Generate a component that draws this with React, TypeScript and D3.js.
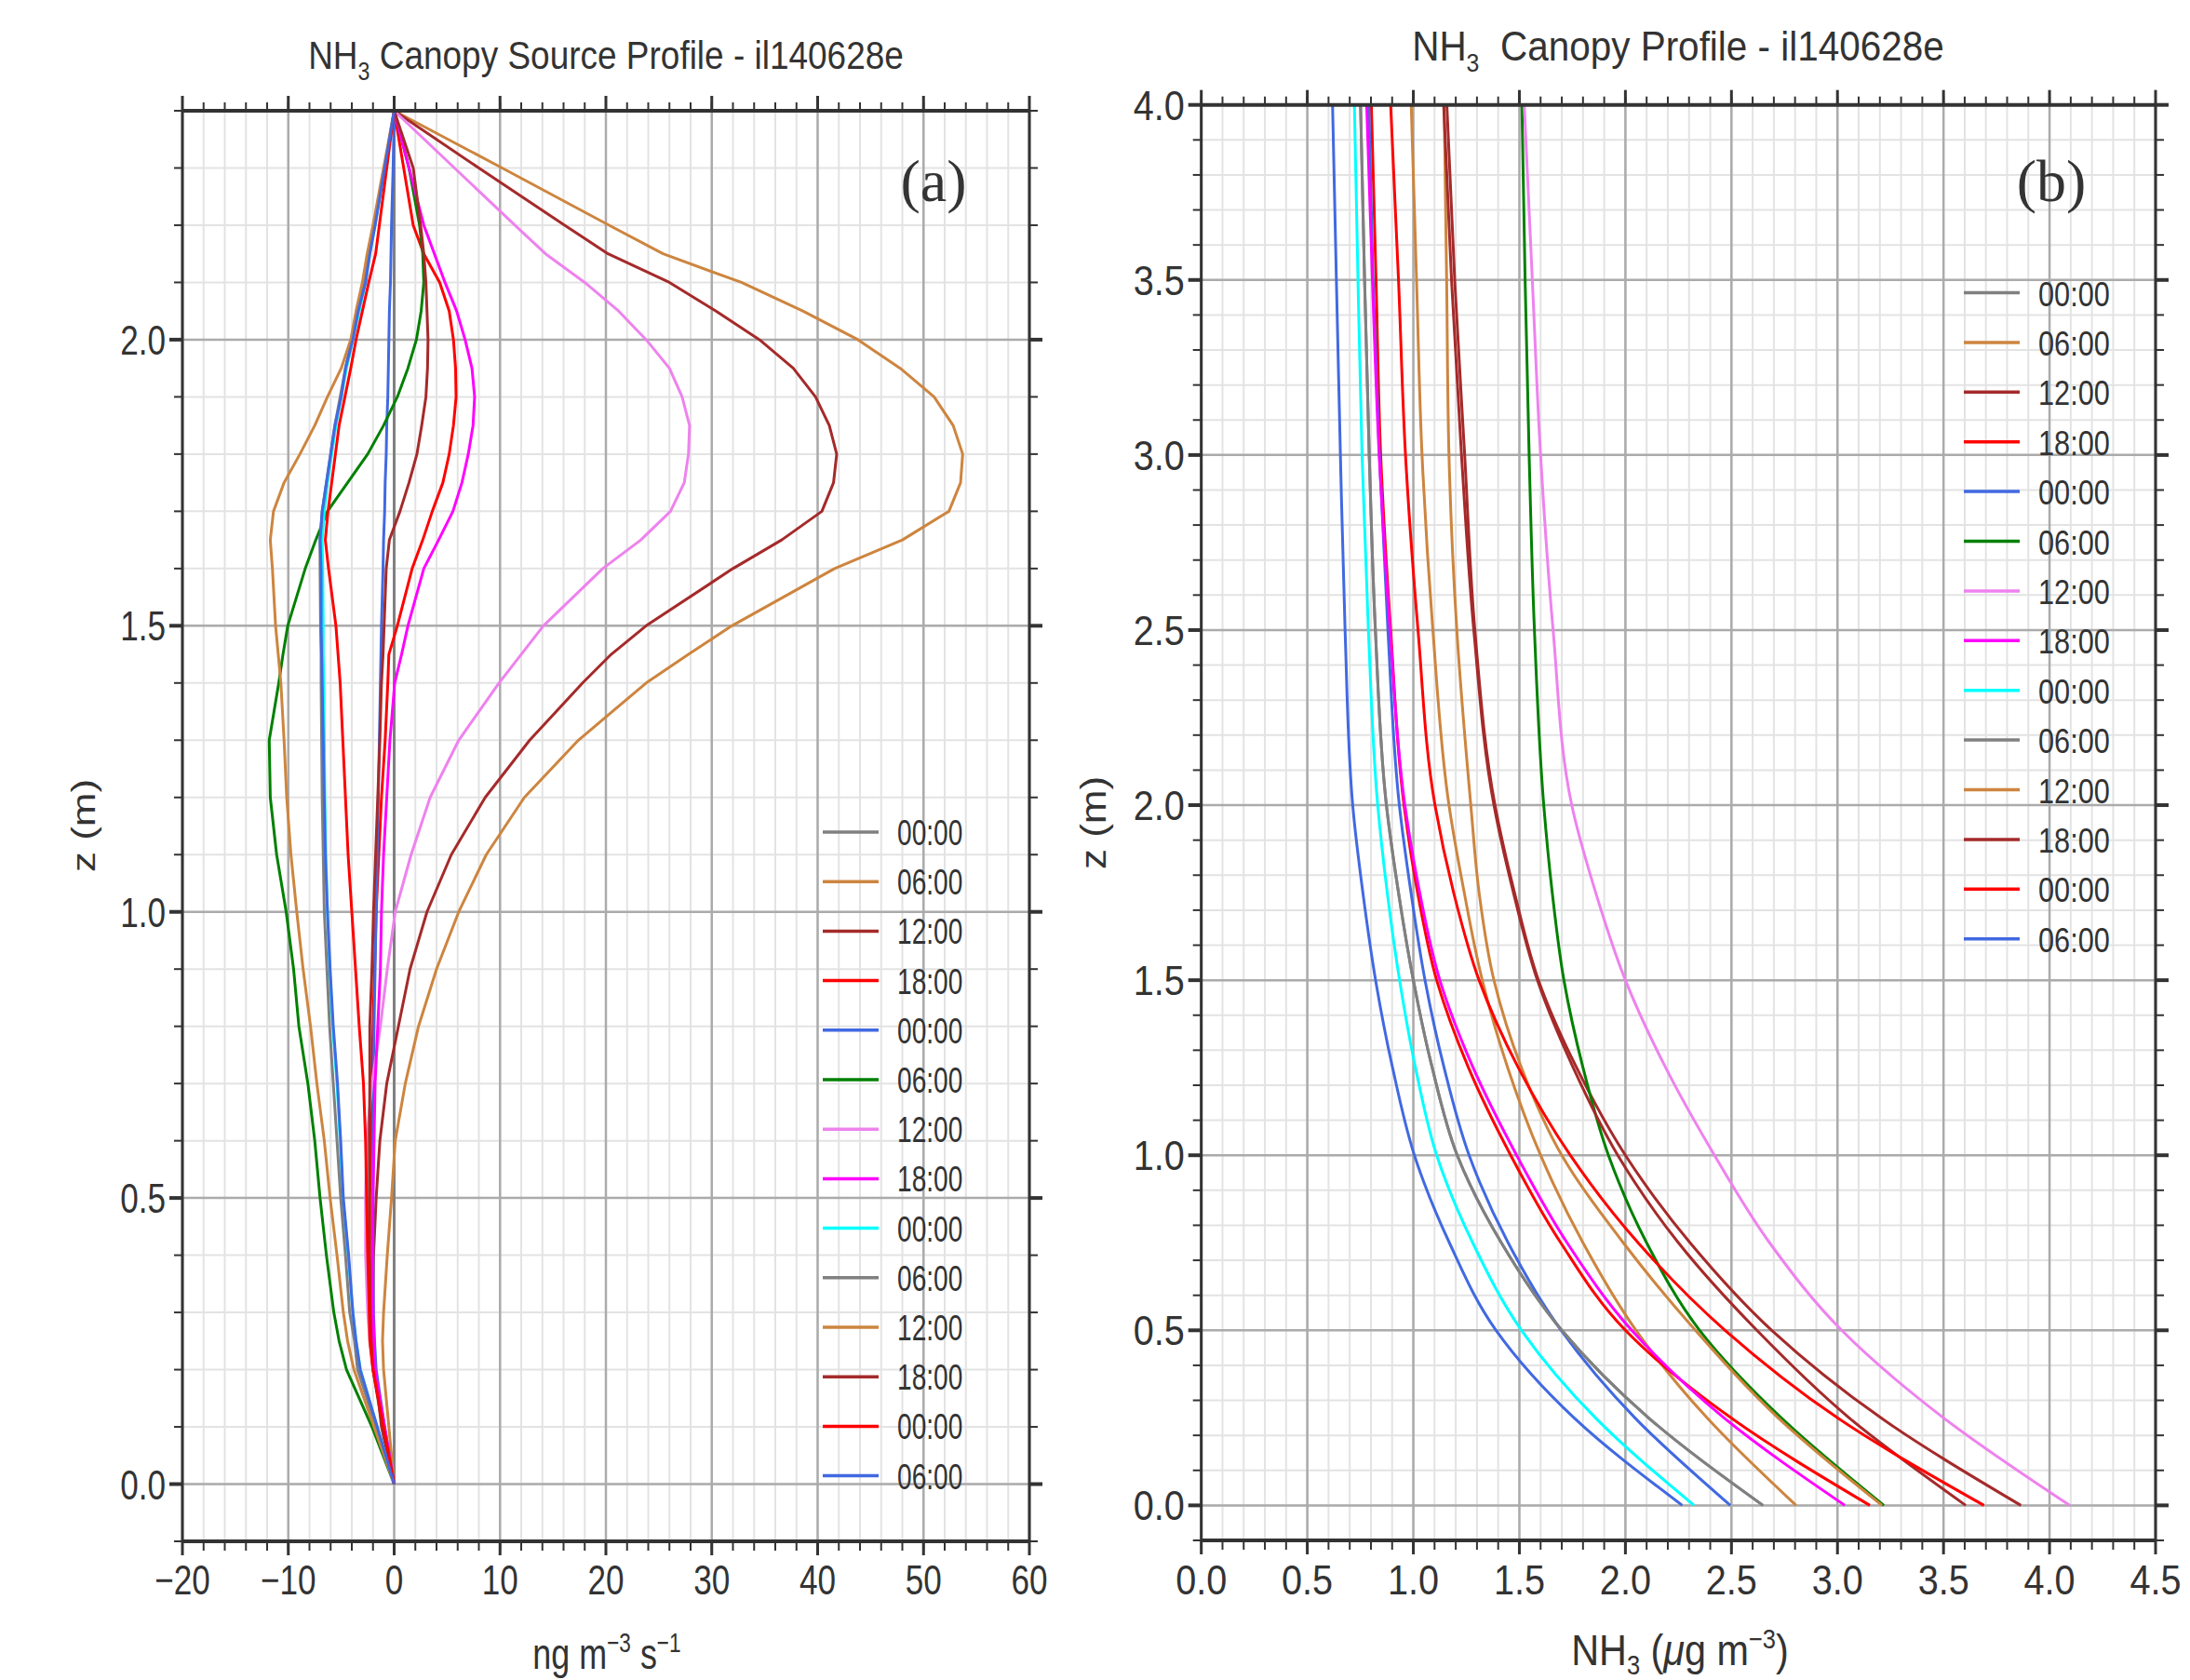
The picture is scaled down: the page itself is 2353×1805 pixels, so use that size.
import React from 'react';
import * as d3 from 'd3';

const WIDTH = 2353;
const HEIGHT = 1805;
const INK = '#333333';
const SANS = '"Liberation Sans", Arial, sans-serif';
const SERIF = '"Liberation Serif", "Times New Roman", serif';

const timeLabels = ['00:00', '06:00', '12:00', '18:00', '00:00', '06:00', '12:00', '18:00', '00:00', '06:00', '12:00', '18:00', '00:00', '06:00'];
const lineColors = ['gray', 'peru', 'brown', 'red', 'royalblue', 'green', 'violet', 'magenta', 'cyan', 'gray', 'peru', 'brown', 'red', 'royalblue'];

// (a) source profile: heights (m) and source strength (ng m-3 s-1)
const zSource = [0, 0.1, 0.2, 0.25, 0.3, 0.4, 0.5, 0.6, 0.7, 0.8, 0.9, 1.0, 1.1, 1.2, 1.3, 1.4, 1.45, 1.5, 1.6, 1.65, 1.7, 1.75, 1.8, 1.85, 1.9, 1.95, 2.0, 2.05, 2.1, 2.15, 2.2, 2.3, 2.4];
const srcGray00 = [0, 0, 0, 0, 0, 0, 0, 0, 0, 0, 0, 0, 0, 0, 0, 0, 0, 0, 0, 0, 0, 0, 0, 0, 0, 0, 0, 0, 0, 0, 0, 0, 0];
const srcPeru06 = [0, -0.5, -1.0, -1.1, -1.0, -0.65, -0.25, 0.1, 1.05, 2.3, 4.0, 6.1, 8.7, 12.3, 17.4, 23.8, 27.8, 31.9, 41.6, 48.0, 52.4, 53.5, 53.7, 52.8, 51.0, 47.8, 43.8, 38.6, 32.8, 25.4, 20.3, 10.2, 0];
const srcBrown12 = [0, -1.2, -1.8, -2.0, -2.0, -1.95, -1.7, -1.35, -0.7, 0.4, 1.5, 3.1, 5.4, 8.6, 12.8, 17.8, 20.5, 23.8, 32.0, 36.6, 40.4, 41.5, 41.8, 41.1, 39.8, 37.7, 34.5, 30.4, 26.0, 20.2, 16.1, 8.0, 0];
const srcRed18 = [0, -1.0, -1.9, -2.1, -2.2, -2.3, -2.3, -2.2, -2.1, -2.0, -1.85, -1.7, -1.45, -1.2, -0.85, -0.6, -0.5, 0.3, 1.7, 2.7, 3.6, 4.6, 5.2, 5.6, 5.85, 5.8, 5.6, 5.2, 4.3, 2.8, 1.8, 0.9, 0];
const srcBlue00 = [0, -0.9, -1.7, -1.85, -1.95, -2.0, -2.0, -2.0, -1.95, -1.9, -1.8, -1.7, -1.6, -1.5, -1.4, -1.3, -1.25, -1.2, -1.05, -1.0, -0.9, -0.85, -0.75, -0.7, -0.6, -0.55, -0.5, -0.45, -0.35, -0.3, -0.25, -0.1, 0];
const srcGreen06 = [0, -2.1, -4.5, -5.2, -5.7, -6.4, -7.0, -7.5, -8.15, -9.0, -9.5, -10.2, -11.1, -11.7, -11.8, -10.9, -10.5, -10.05, -8.4, -7.4, -6.3, -4.4, -2.5, -1.0, 0.3, 1.3, 2.1, 2.55, 2.8, 2.7, 2.4, 1.4, 0];
const srcViolet12 = [0, -1.0, -2.0, -2.3, -2.5, -2.7, -2.7, -2.6, -2.1, -1.3, -0.65, 0.1, 1.6, 3.4, 6.1, 9.9, 12.0, 14.1, 19.7, 23.3, 26.1, 27.4, 27.8, 27.9, 27.2, 26.0, 23.8, 21.2, 18.0, 14.3, 11.4, 5.7, 0];
const srcMagenta18 = [0, -0.9, -1.8, -1.9, -2.0, -2.05, -2.0, -1.9, -1.8, -1.55, -1.3, -1.2, -1.0, -0.7, -0.4, 0.05, 0.7, 1.3, 2.8, 4.2, 5.55, 6.4, 7.0, 7.45, 7.6, 7.35, 6.7, 5.9, 4.8, 3.8, 2.8, 1.4, 0];
const srcCyan00 = [0, -1.6, -3.2, -3.6, -3.9, -4.35, -4.85, -5.1, -5.4, -5.8, -6.1, -6.3, -6.45, -6.55, -6.6, -6.65, -6.7, -6.7, -6.75, -6.8, -6.6, -6.3, -5.9, -5.5, -5.0, -4.5, -3.9, -3.3, -2.7, -2.3, -1.8, -0.9, 0];
const srcGray06 = [0, -1.7, -3.46, -3.75, -4.2, -4.6, -5.05, -5.4, -5.75, -6.1, -6.35, -6.6, -6.7, -6.8, -6.85, -6.9, -6.9, -6.95, -7.0, -7.0, -6.8, -6.4, -6.0, -5.6, -5.1, -4.6, -4.0, -3.4, -2.8, -2.35, -1.85, -0.9, 0];
const srcPeru12 = [0, -1.9, -3.8, -4.4, -4.8, -5.4, -6.05, -6.6, -7.3, -7.9, -8.6, -9.2, -9.75, -10.15, -10.4, -10.7, -10.95, -11.2, -11.5, -11.7, -11.4, -10.4, -8.9, -7.5, -6.3, -5.0, -4.1, -3.6, -3.0, -2.55, -2.0, -1.0, 0];
const srcBrown18 = [0, -1.1, -2.0, -2.2, -2.3, -2.35, -2.35, -2.35, -2.3, -2.3, -2.1, -1.95, -1.75, -1.55, -1.35, -1.2, -1.05, -0.95, -0.75, -0.45, 0.55, 1.4, 2.15, 2.6, 3.0, 3.15, 3.2, 3.1, 3.0, 2.8, 2.5, 1.8, 0];
const srcRed00 = [0, -1.0, -2.0, -2.3, -2.35, -2.5, -2.6, -2.7, -2.9, -3.3, -3.65, -4.0, -4.35, -4.6, -4.85, -5.1, -5.3, -5.5, -6.2, -6.5, -6.25, -5.9, -5.55, -5.2, -4.65, -4.1, -3.6, -3.0, -2.4, -1.75, -1.4, -0.7, 0];
const srcBlue06 = [0, -1.6, -3.2, -3.6, -3.9, -4.3, -4.8, -5.05, -5.35, -5.75, -6.05, -6.3, -6.5, -6.6, -6.7, -6.8, -6.85, -6.9, -6.9, -7.0, -6.8, -6.4, -6.0, -5.6, -5.0, -4.6, -3.9, -3.4, -2.7, -2.3, -1.8, -0.9, 0];

// (b) concentration profile: heights (m) and NH3 (ug m-3)
const zConc = [0, 0.25, 0.5, 0.75, 1.0, 1.25, 1.5, 1.75, 2.0, 2.5, 3.0, 3.5, 4.0];
const concGray00 = [2.649, 2.109, 1.70, 1.415, 1.207, 1.089, 1.0, 0.93, 0.873, 0.821, 0.792, 0.77, 0.751];
const concPeru06 = [2.805, 2.385, 2.05, 1.80, 1.60, 1.445, 1.325, 1.24, 1.168, 1.092, 1.041, 1.015, 0.99];
const concBrown12 = [3.865, 3.205, 2.69, 2.305, 2.0, 1.77, 1.59, 1.477, 1.385, 1.29, 1.242, 1.195, 1.158];
const concRed18 = [3.153, 2.498, 2.0, 1.695, 1.459, 1.26, 1.11, 1.02, 0.956, 0.893, 0.846, 0.824, 0.802];
const concBlue00 = [2.495, 2.045, 1.697, 1.447, 1.263, 1.145, 1.055, 0.989, 0.934, 0.88, 0.84, 0.81, 0.79];
const concGreen06 = [3.219, 2.735, 2.35, 2.10, 1.92, 1.80, 1.71, 1.655, 1.615, 1.571, 1.546, 1.527, 1.512];
const concViolet12 = [4.095, 3.50, 3.02, 2.68, 2.42, 2.19, 2.0, 1.86, 1.747, 1.659, 1.60, 1.561, 1.523];
const concMagenta18 = [3.035, 2.465, 2.03, 1.725, 1.487, 1.282, 1.125, 1.03, 0.96, 0.89, 0.839, 0.807, 0.78];
const concCyan00 = [2.324, 1.859, 1.51, 1.28, 1.11, 1.01, 0.935, 0.877, 0.832, 0.788, 0.758, 0.739, 0.722];
const concGray06 = [2.649, 2.109, 1.70, 1.415, 1.207, 1.089, 1.0, 0.93, 0.873, 0.821, 0.792, 0.77, 0.751];
const concPeru12 = [3.21, 2.72, 2.33, 1.99, 1.70, 1.51, 1.38, 1.31, 1.271, 1.205, 1.168, 1.157, 1.145];
const concBrown18 = [3.605, 3.055, 2.62, 2.25, 1.964, 1.754, 1.585, 1.472, 1.38, 1.285, 1.227, 1.18, 1.143];
const concRed00 = [3.691, 3.0, 2.47, 2.06, 1.74, 1.495, 1.31, 1.19, 1.102, 1.022, 0.963, 0.93, 0.893];
const concBlue06 = [2.268, 1.758, 1.39, 1.17, 1.005, 0.902, 0.822, 0.762, 0.714, 0.678, 0.656, 0.637, 0.619];

const sourceSeries = [srcGray00, srcPeru06, srcBrown12, srcRed18, srcBlue00, srcGreen06, srcViolet12, srcMagenta18, srcCyan00, srcGray06, srcPeru12, srcBrown18, srcRed00, srcBlue06];
const concSeries = [concGray00, concPeru06, concBrown12, concRed18, concBlue00, concGreen06, concViolet12, concMagenta18, concCyan00, concGray06, concPeru12, concBrown18, concRed00, concBlue06];

type Box = { left: number; right: number; top: number; bottom: number };

function Txt(props: { x: number; y: number; sx?: number; anchor?: string; size: number; rotate?: boolean; family?: string; children: React.ReactNode }) {
  const { x, y, sx = 1, anchor = 'middle', size, rotate = false, family = SANS, children } = props;
  const tr = `translate(${x},${y}) scale(${sx},1)` + (rotate ? ' rotate(-90)' : '');
  return (
    <text transform={tr} textAnchor={anchor} fontSize={size} fontFamily={family} fill={INK}>
      {children}
    </text>
  );
}

function Panel(props: {
  box: Box;
  xDomain: [number, number];
  zDomain: [number, number];
  xTicks: [number, number];
  zTicks: [number, number];
  xFmt: (v: number) => string;
  zLevels: number[];
  series: number[][];
  curve: d3.CurveFactory;
  sx: number;
}) {
  const { box, xDomain, zDomain, xTicks, zTicks, xFmt, zLevels, series, curve, sx } = props;
  const x = d3.scaleLinear().domain(xDomain).range([box.left, box.right]);
  const z = d3.scaleLinear().domain(zDomain).range([box.bottom, box.top]);
  const xMaj = x.ticks(xTicks[0]);
  const xMin = x.ticks(xTicks[1]);
  const zMaj = z.ticks(zTicks[0]);
  const zMin = z.ticks(zTicks[1]);
  const fmtZ = d3.format('.1f');
  const line = (vals: number[]) =>
    d3.line<number>().x((d) => x(d)).y((_, i) => z(zLevels[i])).curve(curve)(vals) || '';

  return (
    <g>
      <g stroke="#e3e3e3" strokeWidth={2}>
        {xMin.map((t) => <line key={'xm' + t} x1={x(t)} x2={x(t)} y1={box.top} y2={box.bottom} />)}
        {zMin.map((t) => <line key={'zm' + t} x1={box.left} x2={box.right} y1={z(t)} y2={z(t)} />)}
      </g>
      <g stroke="#ababab" strokeWidth={2.5}>
        {xMaj.map((t) => <line key={'xM' + t} x1={x(t)} x2={x(t)} y1={box.top} y2={box.bottom} />)}
        {zMaj.map((t) => <line key={'zM' + t} x1={box.left} x2={box.right} y1={z(t)} y2={z(t)} />)}
      </g>
      <g fill="none" strokeWidth={3} strokeLinejoin="round">
        {series.map((vals, i) => <path key={i} d={line(vals)} stroke={lineColors[i]} />)}
      </g>
      <g stroke={INK}>
        <line x1={box.left} x2={box.right} y1={box.top} y2={box.top} strokeWidth={4} />
        <line x1={box.left} x2={box.right} y1={box.bottom} y2={box.bottom} strokeWidth={4} />
        <line x1={box.left} x2={box.left} y1={box.top} y2={box.bottom} strokeWidth={3} />
        <line x1={box.right} x2={box.right} y1={box.top} y2={box.bottom} strokeWidth={3} />
        {xMin.map((t) => (
          <g key={'txm' + t} strokeWidth={2}>
            <line x1={x(t)} x2={x(t)} y1={box.top} y2={box.top - 9} />
            <line x1={x(t)} x2={x(t)} y1={box.bottom} y2={box.bottom + 10} />
          </g>
        ))}
        {xMaj.map((t) => (
          <g key={'txM' + t} strokeWidth={3}>
            <line x1={x(t)} x2={x(t)} y1={box.top} y2={box.top - 16} />
            <line x1={x(t)} x2={x(t)} y1={box.bottom} y2={box.bottom + 15} />
          </g>
        ))}
        {zMin.map((t) => (
          <g key={'tzm' + t} strokeWidth={2}>
            <line x1={box.left} x2={box.left - 9} y1={z(t)} y2={z(t)} />
            <line x1={box.right} x2={box.right + 9} y1={z(t)} y2={z(t)} />
          </g>
        ))}
        {zMaj.map((t) => (
          <g key={'tzM' + t} strokeWidth={4}>
            <line x1={box.left} x2={box.left - 14} y1={z(t)} y2={z(t)} />
            <line x1={box.right} x2={box.right + 14} y1={z(t)} y2={z(t)} />
          </g>
        ))}
      </g>
      {xMaj.map((t) => (
        <Txt key={'lx' + t} x={x(t)} y={1713} sx={sx} size={45}>{xFmt(t)}</Txt>
      ))}
      {zMaj.map((t) => (
        <Txt key={'lz' + t} x={box.left - 18} y={z(t) + 16} sx={sx} size={45} anchor="end">{fmtZ(t)}</Txt>
      ))}
    </g>
  );
}

function Legend(props: { x: number; y: number; step: number; size: number; sx: number }) {
  const { x, y, step, size, sx } = props;
  return (
    <g>
      {timeLabels.map((lab, i) => (
        <g key={i}>
          <line x1={x} x2={x + 60} y1={y + i * step} y2={y + i * step} stroke={lineColors[i]} strokeWidth={3.5} />
          <Txt x={x + 80} y={y + i * step + 14} sx={sx} size={size} anchor="start">{lab}</Txt>
        </g>
      ))}
    </g>
  );
}

export default function App() {
  const boxA: Box = { left: 196, right: 1106, top: 119, bottom: 1656 };
  const boxB: Box = { left: 1290.7, right: 2316, top: 112.7, bottom: 1655 };
  const sxA = 0.78;
  const sxB = 0.88;
  return (
    <div style={{ position: 'absolute', left: 0, top: 0 }}>
      <svg width={WIDTH} height={HEIGHT} viewBox={`0 0 ${WIDTH} ${HEIGHT}`} style={{ display: 'block', background: '#fff' }}>
        <rect width={WIDTH} height={HEIGHT} fill="#fff" />
        <Panel
          box={boxA}
          xDomain={[-20, 60]}
          zDomain={[-0.1, 2.4]}
          xTicks={[8, 40]}
          zTicks={[5, 25]}
          xFmt={d3.format('d')}
          zLevels={zSource}
          series={sourceSeries}
          curve={d3.curveLinear}
          sx={sxA}
        />
        <Panel
          box={boxB}
          xDomain={[0, 4.5]}
          zDomain={[-0.1, 4.0]}
          xTicks={[9, 45]}
          zTicks={[8, 41]}
          xFmt={d3.format('.1f')}
          zLevels={zConc}
          series={concSeries}
          curve={d3.curveMonotoneY}
          sx={sxB}
        />
        <Legend x={884} y={894} step={53.2} size={38} sx={0.74} />
        <Legend x={2110} y={314.5} step={53.4} size={37} sx={0.83} />

        <Txt x={651} y={74} sx={0.86} size={43}>
          NH<tspan dy={12} fontSize={27}>3</tspan><tspan dy={-12}> Canopy Source Profile - il140628e</tspan>
        </Txt>
        <Txt x={1803} y={65} sx={0.92} size={44}>
          NH<tspan dy={12} fontSize={27}>3</tspan><tspan dy={-12}>{'\u00a0 Canopy Profile - il140628e'}</tspan>
        </Txt>

        <Txt x={652} y={1793} sx={sxA} size={46}>
          ng m<tspan dy={-18} fontSize={29}>−3</tspan><tspan dy={18}> s</tspan><tspan dy={-18} fontSize={29}>−1</tspan>
        </Txt>
        <Txt x={1805} y={1789} sx={sxB} size={47}>
          NH<tspan dy={10} fontSize={29}>3</tspan><tspan dy={-10}> (</tspan><tspan fontStyle="italic">μ</tspan>g m<tspan dy={-18} fontSize={29}>−3</tspan><tspan dy={18}>)</tspan>
        </Txt>
        <Txt x={102} y={887} sx={sxA} size={44} rotate>z (m)</Txt>
        <Txt x={1188} y={884} sx={sxB} size={44} rotate>z (m)</Txt>

        <Txt x={1003} y={216} size={64} family={SERIF}>(a)</Txt>
        <Txt x={2204} y={216} size={64} family={SERIF}>(b)</Txt>
      </svg>
    </div>
  );
}
